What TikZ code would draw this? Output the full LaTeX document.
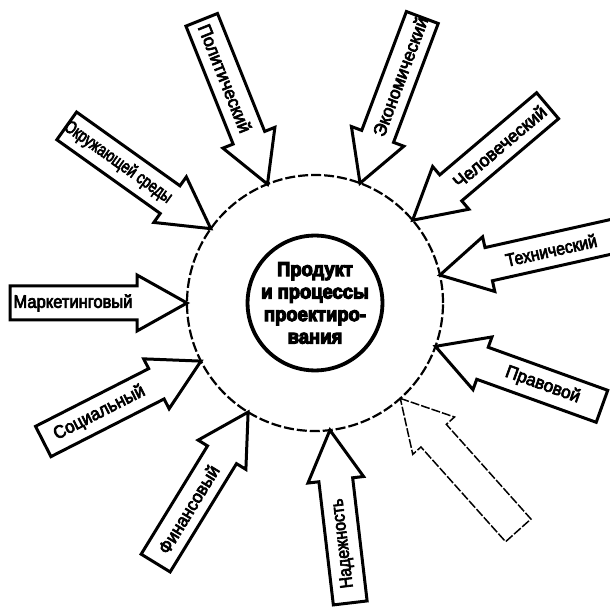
\documentclass[tikz,border=0pt]{standalone}
\usepackage{fontspec}
\setmainfont{Liberation Sans}
\newfontfamily\lblfont[FakeBold=4]{Liberation Sans}
\newfontfamily\corefont[FakeBold=6]{Liberation Sans Bold}
\usepackage{graphicx}
\newcommand{\factorarrow}[7]{%
  % #1 name, #2 direction, #3 length, #4 style, #5 text angle, #6 text width, #7 text
  \begin{scope}[shift={(C)}, rotate=#2]
    \draw[#4] (128,0) -- (178,28) -- (178,17) -- (128+#3,17) -- (128+#3,-17) -- (178,-17) -- (178,-28) -- cycle;
    \node[lbl, rotate=#5] (#1) at (242,0) {\resizebox{#6pt}{\height}{#7}};
  \end{scope}}
\newcommand{\coreline}[1]{\scalebox{0.92}[1]{#1}}
\begin{document}
\begin{tikzpicture}[x=1pt,y=1pt,
  blockarrow/.style={draw=black, line width=3pt, line join=miter},
  ghostarrow/.style={draw=black, line width=1.5pt, dash pattern=on 9pt off 2pt},
  lbl/.style={font=\lblfont\fontsize{18}{18}\selectfont, inner sep=0pt},
  core/.style={circle, draw, line width=3.8pt, minimum size=134pt, align=center,
    font=\corefont\fontsize{20}{22.5}\selectfont, inner sep=0pt},
  ring/.style={draw, line width=2.2pt, dash pattern=on 10pt off 3pt}
]
\useasboundingbox (0,0) rectangle (610,608);
\coordinate (C) at (315,305);
\factorarrow{mark}{180}{177}{blockarrow}{0}{119}{Маркетинговый}
\factorarrow{env}{144.5}{177}{blockarrow}{-35.5}{128}{Окружающей среды}
\factorarrow{pol}{111.8}{177}{blockarrow}{-68.2}{115}{Политический}
\factorarrow{econ}{69.4}{177}{blockarrow}{69.4}{126}{Экономический}
\factorarrow{hum}{40.3}{177}{blockarrow}{40.3}{116}{Человеческий}
\factorarrow{tech}{12.6}{185}{blockarrow}{12.6}{93}{Технический}
\factorarrow{law}{-19.8}{177}{blockarrow}{-19.8}{78}{Правовой}
\begin{scope}[shift={(C)}, rotate=-48.2]
  \draw[ghostarrow] (128,0) -- (178,28) -- (178,17) -- (305,17) -- (305,-17) -- (178,-17) -- (178,-28) -- cycle;
\end{scope}
\factorarrow{rel}{-83.3}{174}{blockarrow}{96.7}{90}{Надежность}
\factorarrow{fin}{-121.5}{177}{blockarrow}{58.5}{100}{Финансовый}
\factorarrow{soc}{-153}{177}{blockarrow}{27}{100}{Социальный}
\draw[ring] (C) circle (128);
\node[core] (core) at (C) {\coreline{Продукт}\\\coreline{и процессы}\\\coreline{проектиро-}\\\coreline{вания}};
\end{tikzpicture}
\end{document}
